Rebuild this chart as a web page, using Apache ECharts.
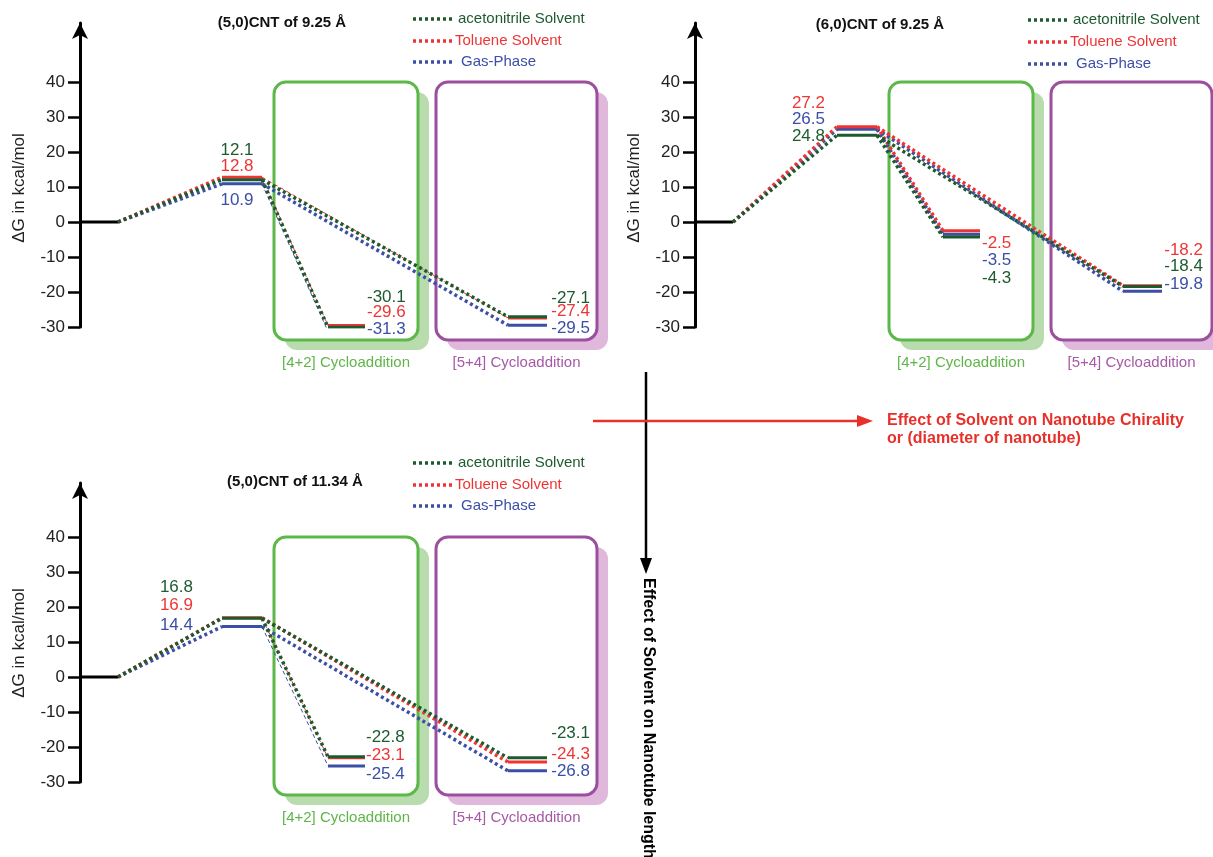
<!DOCTYPE html>
<html>
<head>
<meta charset="utf-8">
<script src="https://cdn.jsdelivr.net/npm/echarts@6/dist/echarts.min.js"></script>
<style>
  html, body { margin: 0; padding: 0; background: #fff; }
  #chart { width: 1213px; height: 857px; }
</style>
</head>
<body>
<div id="chart"></div>
<script>
// ---- data ----
const panelTitles = ['(5,0)CNT of 9.25 Å', '(6,0)CNT of 9.25 Å', '(5,0)CNT of 11.34 Å'];
const solventNames = ['acetonitrile Solvent', 'Toluene Solvent', 'Gas-Phase'];
// ΔG in kcal/mol for each panel: [TS, [4+2] product, [5+4] product]
const acetonitrile = [[12.1, -30.1, -27.1], [24.8, -4.3, -18.4], [16.8, -22.8, -23.1]];
const toluene = [[12.8, -29.6, -27.4], [27.2, -2.5, -18.2], [16.9, -23.1, -24.3]];
const gasPhase = [[10.9, -31.3, -29.5], [26.5, -3.5, -19.8], [14.4, -25.4, -26.8]];
const yTicks = [-30, -20, -10, 0, 10, 20, 30, 40];
const boxNames = ['[4+2] Cycloaddition', '[5+4] Cycloaddition'];
const yName = 'ΔG in kcal/mol';

const solventData = [acetonitrile, toluene, gasPhase];
const solventColors = ['#1d5b2f', '#ee3535', '#3b4fa6'];
const FONT = '"Liberation Sans", Arial, sans-serif';

// ---- layout ----
const PX = 3.5; // pixels per kcal/mol
const panels = [
  { left: 80, width: 520, tip: 15, zero: 222 },
  { left: 695, width: 518, tip: 15, zero: 222 },
  { left: 80, width: 520, tip: 475, zero: 677 }
];
// x extents of the levels: reactant, TS, [4+2], [5+4]
const stageX = [[0, 38], [142, 182], [248, 285], [428, 467]];
// thin connectors: [panel][connector 1=to [4+2], 2=to [5+4]] -> solvent indexes
const thinLinks = [{ 1: [1, 2], 2: [1] }, {}, { 1: [1, 2] }];
// value label placement (dx from axis, dy from zero line)
const labelLayout = [
  [{ dx: 157, align: 'center', dy: [-72, -56, -22] }, { dx: 287, align: 'left', dy: [75, 90, 107] }, { dx: 510, align: 'right', dy: [76, 89, 106] }],
  [{ dx: 130, align: 'right', dy: [-86, -119, -103] }, { dx: 287, align: 'left', dy: [56, 21, 38] }, { dx: 508, align: 'right', dy: [44, 28, 62] }],
  [{ dx: 113, align: 'right', dy: [-90, -72, -52] }, { dx: 286, align: 'left', dy: [60, 78, 97] }, { dx: 510, align: 'right', dy: [56, 77, 94] }]
];
const titlePos = [[282, 23], [880, 25], [295, 482]];
const legendRows = [[19, 41, 62], [20, 42, 64], [463, 485, 506]];
const legendTextDx = [378, 375, 381];

const chart = echarts.init(document.getElementById('chart'));

const grids = [], xAxes = [], yAxes = [], series = [];

function seg(p, pts, color, width, type) {
  return {
    type: 'line', xAxisIndex: p, yAxisIndex: p, data: pts,
    symbol: 'none', silent: true, z: 3,
    lineStyle: { color: color, width: width, type: type, cap: 'butt' }
  };
}

panels.forEach((pn, p) => {
  const top = pn.tip + 8;
  const bottom = pn.zero + 30 * PX;
  grids.push({ left: pn.left, top: top, width: pn.width, height: bottom - top });
  xAxes.push({ type: 'value', gridIndex: p, min: 0, max: pn.width, show: false });
  yAxes.push({
    type: 'value', gridIndex: p, min: -30, max: (pn.zero - top) / PX,
    axisLine: { show: true, symbol: ['none', 'arrow'], symbolSize: [12, 16], lineStyle: { color: '#000', width: 3 } },
    axisTick: { show: true, customValues: yTicks, length: 12, lineStyle: { color: '#000', width: 2.5 } },
    axisLabel: { customValues: yTicks, fontSize: 17, color: '#222', margin: 15, fontFamily: FONT },
    splitLine: { show: false }
  });

  // reactant level
  series.push(seg(p, [[stageX[0][0], 0], [stageX[0][1], 0]], '#000', 3, 'solid'));

  [2, 1, 0].forEach(s => {
    const v = solventData[s][p];
    const c = solventColors[s];
    const thin = k => (thinLinks[p][k] || []).indexOf(s) >= 0;
    const link = (k, a, b) => thin(k)
      ? seg(p, [a, b], c, 1, [4, 3])
      : seg(p, [a, b], c, 3.5, [3, 3]);
    series.push(link(0, [stageX[0][1], 0], [stageX[1][0], v[0]]));
    series.push(link(1, [stageX[1][1], v[0]], [stageX[2][0], v[1]]));
    series.push(link(2, [stageX[1][1], v[0]], [stageX[3][0], v[2]]));
    for (let k = 0; k < 3; k++) {
      series.push(seg(p, [[stageX[k + 1][0], v[k]], [stageX[k + 1][1], v[k]]], c, 3, 'solid'));
    }
  });
});

chart.setOption({
  animation: false,
  grid: grids,
  xAxis: xAxes,
  yAxis: yAxes,
  series: series
});

// ---- annotations ----
const g = [];
function text(x, y, str, color, size, opts) {
  opts = opts || {};
  g.push({
    type: 'text', x: x, y: y, rotation: opts.rotation || 0, z: 10,
    style: {
      text: str, fill: color, align: opts.align || 'left', verticalAlign: 'middle',
      font: (opts.bold ? 'bold ' : '') + size + 'px ' + FONT
    }
  });
}

const boxSpec = [
  { x: [194, 338], stroke: '#5cb848', shade: '#b9dcae', label: '#5fb54a' },
  { x: [356, 517], stroke: '#9c4f9e', shade: '#e0b8dc', label: '#a65aa6' }
];

panels.forEach((pn, p) => {
  // boxes
  boxSpec.forEach((b, i) => {
    const a = chart.convertToPixel({ gridIndex: p }, [b.x[0], 40]);
    const d = chart.convertToPixel({ gridIndex: p }, [b.x[1], -33.7]);
    const shape = { x: a[0], y: a[1], width: d[0] - a[0], height: d[1] - a[1], r: 12 };
    g.push({ type: 'rect', z: 0, shape: Object.assign({}, shape, { x: shape.x + 11, y: shape.y + 10 }), style: { fill: b.shade } });
    g.push({ type: 'rect', z: 1, shape: shape, style: { fill: '#fff', stroke: b.stroke, lineWidth: 3 } });
    text((a[0] + d[0]) / 2, d[1] + 23, boxNames[i], b.label, 15, { align: 'center' });
  });

  // value labels
  labelLayout[p].forEach((lay, k) => {
    for (let s = 0; s < 3; s++) {
      text(pn.left + lay.dx, pn.zero + lay.dy[s], solventData[s][p][k].toFixed(1), solventColors[s], 17, { align: lay.align });
    }
  });

  // axis name
  text(pn.left - 61, pn.zero - 34, yName, '#222', 17, { align: 'center', rotation: Math.PI / 2 });

  // title
  text(titlePos[p][0], titlePos[p][1], panelTitles[p], '#111', 15, { align: 'center', bold: true });

  // legend
  for (let s = 0; s < 3; s++) {
    const y = legendRows[p][s];
    g.push({
      type: 'line', z: 10,
      shape: { x1: pn.left + 333, y1: y, x2: pn.left + 372, y2: y },
      style: { stroke: solventColors[s], lineWidth: 3.5, lineDash: [3, 3] }
    });
    text(pn.left + legendTextDx[s], y, solventNames[s], solventColors[s], 15);
  }
});

// arrows between panels
g.push({ type: 'line', z: 10, shape: { x1: 646, y1: 372, x2: 646, y2: 560 }, style: { stroke: '#000', lineWidth: 2.5 } });
g.push({ type: 'polygon', z: 10, shape: { points: [[640, 558], [652, 558], [646, 574]] }, style: { fill: '#000' } });
g.push({ type: 'line', z: 11, shape: { x1: 593, y1: 421, x2: 860, y2: 421 }, style: { stroke: '#e8302a', lineWidth: 2.5 } });
g.push({ type: 'polygon', z: 11, shape: { points: [[857, 415], [857, 427], [873, 421]] }, style: { fill: '#e8302a' } });
text(887, 421, 'Effect of Solvent on Nanotube Chirality', '#e8302a', 16, { bold: true });
text(887, 439, 'or (diameter of nanotube)', '#e8302a', 16, { bold: true });
text(648, 578, 'Effect of Solvent on Nanotube length', '#000', 16, { bold: true, rotation: -Math.PI / 2 });

chart.setOption({ graphic: g });
</script>
</body>
</html>
